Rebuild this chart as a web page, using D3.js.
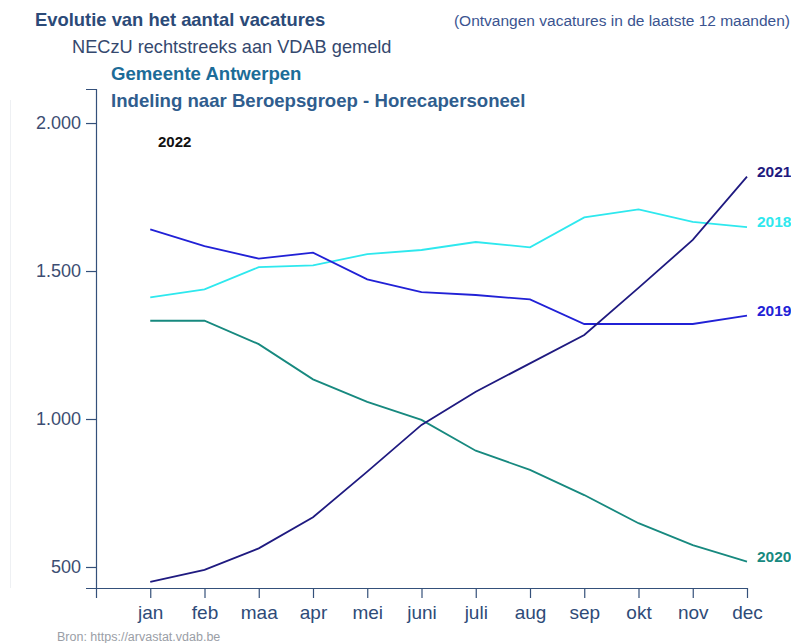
<!DOCTYPE html>
<html>
<head>
<meta charset="utf-8">
<script src="https://cdn.jsdelivr.net/npm/d3@7"></script>
<style>
  body { margin: 0; background: #fff; }
  text { font-family: "Liberation Sans", Arial, sans-serif; }
</style>
</head>
<body>
<div id="chart"></div>
<script>
// chart size
const width = 791;
const height = 643;
const margin = {left: 96, right: 44, top: 89, bottom: 55};

// data
const months = ["jan", "feb", "maa", "apr", "mei", "juni", "juli", "aug", "sep", "okt", "nov", "dec"];
const years = ["2018", "2019", "2020", "2021"];
const v2018 = [1411, 1438, 1513, 1519, 1557, 1571, 1598, 1580, 1681, 1708, 1666, 1648];
const v2019 = [1641, 1584, 1542, 1562, 1472, 1429, 1419, 1404, 1321, 1321, 1321, 1349];
const v2020 = [1332, 1332, 1253, 1134, 1058, 997, 893, 828, 743, 648, 574, 518];
const v2021 = [450, 490, 563, 668, 822, 980, 1092, 1188, 1284, 1443, 1605, 1819];
const yTicks = [500, 1000, 1500, 2000];

const series = [
  {name: "2018", values: v2018, color: "#2ee8ee"},
  {name: "2019", values: v2019, color: "#2121d6"},
  {name: "2020", values: v2020, color: "#17897f"},
  {name: "2021", values: v2021, color: "#1f1a80"}
];

const svg = d3.select("#chart")
  .append("svg")
  .attr("width", width)
  .attr("height", height);

// faint vertical line on the left
svg.append("line")
  .attr("x1", 10.5).attr("x2", 10.5)
  .attr("y1", 100).attr("y2", 588)
  .attr("stroke", "#eef0f3");

// scales: position 0 is an empty slot before jan
const xScale = d3.scaleLinear()
  .domain([0, months.length])
  .range([margin.left, 747]);

const yScale = d3.scaleLinear()
  .domain([429, 2115])
  .range([588, margin.top]);

const fmt = d => d3.format(",")(d).replace(/,/g, ".");

// y axis
const yAxis = svg.append("g")
  .attr("transform", `translate(${margin.left},0)`)
  .call(d3.axisLeft(yScale).tickValues(yTicks).tickFormat(fmt).tickSize(10).tickPadding(5).tickSizeOuter(10));
yAxis.selectAll("path, line").attr("stroke", "#34507a").attr("stroke-width", 1.2);
yAxis.selectAll("text").attr("font-size", 18).attr("fill", "#3c4d72")
  .attr("font-family", "'Liberation Sans', Arial, sans-serif");

// x axis
const xAxis = svg.append("g")
  .attr("transform", `translate(0,588)`)
  .call(d3.axisBottom(xScale)
    .tickValues(d3.range(0, months.length + 1))
    .tickFormat(i => i === 0 ? "" : months[i - 1])
    .tickSize(10).tickPadding(8).tickSizeOuter(0));
xAxis.select(".domain").attr("d", `M86,0.5H${xScale(months.length)}`);
xAxis.selectAll("path, line").attr("stroke", "#34507a").attr("stroke-width", 1.2);
xAxis.selectAll("text").attr("font-size", 19).attr("fill", "#2e4b78")
  .attr("font-family", "'Liberation Sans Narrow', 'Liberation Sans', Arial, sans-serif")
  .style("font-stretch", "condensed");

// lines
const line = d3.line()
  .x((d, i) => xScale(i + 1))
  .y(d => yScale(d));

svg.selectAll(".series")
  .data(series)
  .enter()
  .append("path")
  .attr("class", "series")
  .attr("d", d => line(d.values))
  .attr("fill", "none")
  .attr("stroke", d => d.color)
  .attr("stroke-width", 1.8);

// end labels
svg.selectAll(".lbl")
  .data(series)
  .enter()
  .append("text")
  .attr("class", "lbl")
  .attr("x", 757)
  .attr("y", d => yScale(d.values[d.values.length - 1]))
  .attr("font-size", 15.5)
  .attr("font-weight", "bold")
  .attr("fill", d => d.color)
  .text(d => d.name);

// titles
svg.append("text").attr("x", 35).attr("y", 26)
  .attr("font-size", 18.4).attr("font-weight", "bold").attr("fill", "#2b4a78")
  .text("Evolutie van het aantal vacatures");
svg.append("text").attr("x", 72).attr("y", 53)
  .attr("font-size", 18.2).attr("fill", "#34486e")
  .text("NECzU rechtstreeks aan VDAB gemeld");
svg.append("text").attr("x", 111).attr("y", 80)
  .attr("font-size", 18.6).attr("font-weight", "bold").attr("fill", "#1c6c98")
  .text("Gemeente Antwerpen");
svg.append("text").attr("x", 111).attr("y", 107)
  .attr("font-size", 18.6).attr("font-weight", "bold").attr("fill", "#2f5d8e")
  .text("Indeling naar Beroepsgroep - Horecapersoneel");
svg.append("text").attr("x", 790).attr("y", 26).attr("text-anchor", "end")
  .attr("font-size", 15.5).attr("fill", "#3a5490")
  .text("(Ontvangen vacatures in de laatste 12 maanden)");
svg.append("text").attr("x", 158).attr("y", 147)
  .attr("font-size", 15).attr("font-weight", "bold").attr("fill", "#111")
  .text("2022");

// source
svg.append("text").attr("x", 57).attr("y", 641)
  .attr("font-size", 12.5).attr("fill", "#9a9ea6")
  .attr("font-family", "'Liberation Sans Narrow', 'Liberation Sans', Arial, sans-serif")
  .style("font-stretch", "condensed")
  .text("Bron: https://arvastat.vdab.be");
</script>
</body>
</html>
